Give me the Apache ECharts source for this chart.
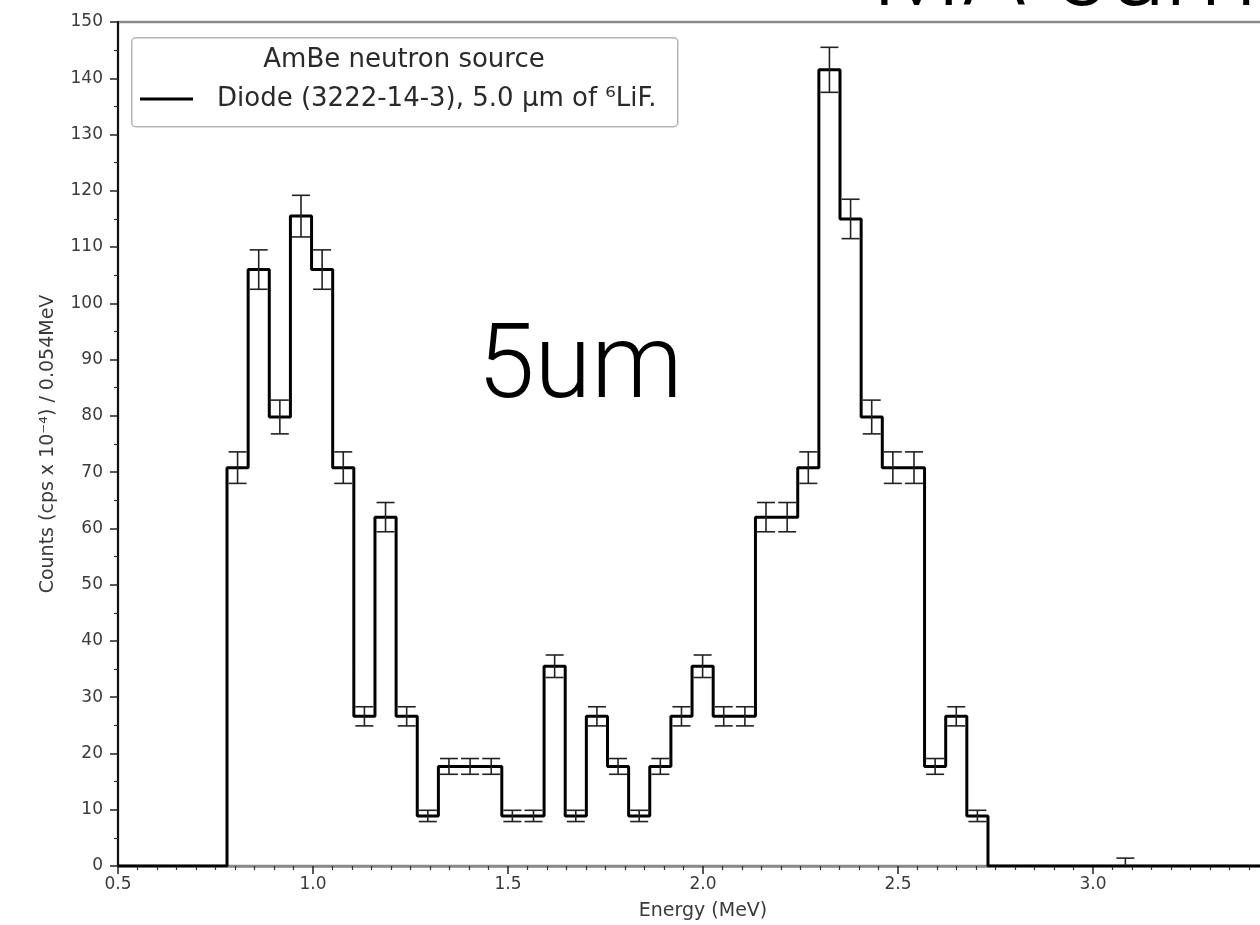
<!DOCTYPE html>
<html>
<head>
<meta charset="utf-8">
<title>AmBe neutron source – 5.0 µm 6LiF diode</title>
<script src="https://cdn.jsdelivr.net/npm/echarts@6/dist/echarts.min.js"></script>
<style>
  html, body { margin: 0; padding: 0; background: #fff; }
  #chart { width: 1260px; height: 925px; }
</style>
</head>
<body>
<div id="chart"></div>
<script>
// Histogram binning (MeV)
const binStart = 0.7795;
const binWidth = 0.0542;

// Rate per bin (cps x 1e-4 / 0.054 MeV), zero bins on the high side included
const rates = [
  70.8, 106, 79.8, 115.5, 106, 70.8, 26.6, 62, 26.6, 8.9,
  17.7, 17.7, 17.7, 8.9, 8.9, 35.5, 8.9, 26.6, 17.7, 8.9,
  17.7, 26.6, 35.5, 26.6, 26.6, 62, 62, 70.8, 141.5, 115,
  79.8, 70.8, 70.8, 17.7, 26.6, 8.9,
  0, 0, 0, 0, 0, 0, 0
];

// Statistical uncertainty per bin
const rateErrors = [
  2.8, 3.5, 3.0, 3.7, 3.5, 2.8, 1.7, 2.6, 1.7, 1.0,
  1.4, 1.4, 1.4, 1.0, 1.0, 2.0, 1.0, 1.7, 1.4, 1.0,
  1.4, 1.7, 2.0, 1.7, 1.7, 2.6, 2.6, 2.8, 4.0, 3.5,
  3.0, 2.8, 2.8, 1.4, 1.7, 1.0,
  0, 0, 0, 0, 0, 0, 1.4
];

const xTicks = [0.5, 1.0, 1.5, 2.0, 2.5, 3.0, 3.5];
const yTicks = [0, 10, 20, 30, 40, 50, 60, 70, 80, 90, 100, 110, 120, 130, 140, 150];

const seriesName = 'Diode (3222-14-3), 5.0 \u03bcm of \u2076LiF.';
const legendTitle = 'AmBe neutron source';
const panelLabel = '5um';
const neighbourLabel = 'MA 5um';

const xMin = xTicks[0], xMax = xTicks[xTicks.length - 1];

// Step outline: leading zero, one point per bin, then back down to zero
const stepPoints = [[xMin, 0]];
rates.forEach((v, i) => stepPoints.push([binStart + i * binWidth, v]));
stepPoints.push([binStart + rates.length * binWidth, 0]);
stepPoints.push([xMax, 0]);

// Error bars sit at bin centres
const errPoints = rates.map((v, i) => [binStart + (i + 0.5) * binWidth, v, rateErrors[i]]);

const chart = echarts.init(document.getElementById('chart'), null, { renderer: 'canvas' });

const font = 'DejaVu Sans';
const inkGrey = '#3a3a3a';

chart.setOption({
  backgroundColor: '#ffffff',
  animation: false,
  grid: {
    left: 118, top: 22, bottom: 59, width: 1170,
    outerBoundsMode: 'none', containLabel: false,
    show: true, borderColor: '#8a8a8a', borderWidth: 2.5, backgroundColor: 'transparent'
  },
  xAxis: {
    type: 'value', min: xMin, max: xMax, interval: 0.5,
    name: 'Energy (MeV)', nameLocation: 'middle', nameGap: 36,
    nameTextStyle: { fontFamily: font, fontSize: 19, color: inkGrey },
    axisLine: { show: true, onZero: false, lineStyle: { color: '#8a8a8a', width: 2.5 } },
    axisTick: { show: true, length: 8, lineStyle: { color: '#222', width: 1.5 } },
    minorTick: { show: true, splitNumber: 10, length: 4, lineStyle: { color: '#333', width: 1.2 } },
    axisLabel: { fontFamily: font, fontSize: 17, color: inkGrey, margin: 10,
                 formatter: v => v.toFixed(1) },
    splitLine: { show: false }
  },
  yAxis: {
    type: 'value', min: yTicks[0], max: yTicks[yTicks.length - 1], interval: 10,
    name: 'Counts (cps x 10\u207b\u2074) / 0.054MeV', nameLocation: 'middle', nameGap: 60,
    nameTextStyle: { fontFamily: font, fontSize: 19, color: inkGrey },
    axisLine: { show: true, lineStyle: { color: '#111', width: 2 } },
    axisTick: { show: true, length: 8, lineStyle: { color: '#222', width: 1.5 } },
    minorTick: { show: true, splitNumber: 2, length: 4, lineStyle: { color: '#333', width: 1.2 } },
    axisLabel: { fontFamily: font, fontSize: 17, color: inkGrey, margin: 15 },
    splitLine: { show: false }
  },
  legend: {
    left: 135, top: 81, z: 20,
    itemWidth: 53, itemHeight: 3, itemGap: 10,
    icon: 'rect',
    textStyle: { fontFamily: font, fontSize: 26, color: '#2a2a2a', padding: [0, 0, 0, 19] },
    data: [{ name: seriesName, itemStyle: { color: '#000' } }]
  },
  series: [
    {
      name: seriesName,
      type: 'line',
      step: 'end',
      data: stepPoints,
      symbol: 'none',
      clip: true,
      lineStyle: { color: '#000', width: 3 },
      itemStyle: { color: '#000' },
      z: 3
    },
    {
      name: 'errors',
      type: 'custom',
      data: errPoints,
      clip: true,
      z: 4,
      renderItem: (params, api) => {
        const x = api.value(0), y = api.value(1), e = api.value(2);
        if (!e) return null;
        const top = api.coord([x, y + e]);
        const bot = api.coord([x, y - e]);
        const half = 9;
        const st = { stroke: '#222', lineWidth: 1.6 };
        return {
          type: 'group',
          children: [
            { type: 'line', shape: { x1: top[0], y1: top[1], x2: bot[0], y2: bot[1] }, style: st },
            { type: 'line', shape: { x1: top[0] - half, y1: top[1], x2: top[0] + half, y2: top[1] }, style: st },
            { type: 'line', shape: { x1: bot[0] - half, y1: bot[1], x2: bot[0] + half, y2: bot[1] }, style: st }
          ]
        };
      }
    }
  ],
  graphic: [
    {
      type: 'rect', left: 131, top: 37, z: 10, silent: true,
      shape: { width: 546, height: 89, r: 4 },
      style: { fill: 'rgba(255,255,255,0.8)', stroke: '#b5b5b5', lineWidth: 1.5 }
    },
    {
      type: 'text', z: 21, silent: true, x: 404, y: 60,
      style: { text: legendTitle, font: '26px "DejaVu Sans"', fill: '#2a2a2a',
               textAlign: 'center', textVerticalAlign: 'middle' }
    },
    {
      type: 'text', z: 21, silent: true, x: 580, y: 371,
      style: { text: panelLabel, font: '300 103px Roboto', fill: '#000',
               textAlign: 'center', textVerticalAlign: 'middle' }
    },
    {
      type: 'text', z: 21, silent: true, x: 872, y: -21,
      style: { text: neighbourLabel, font: '300 103px Roboto', fill: '#000',
               textAlign: 'left', textVerticalAlign: 'middle' }
    }
  ]
});
</script>
</body>
</html>
